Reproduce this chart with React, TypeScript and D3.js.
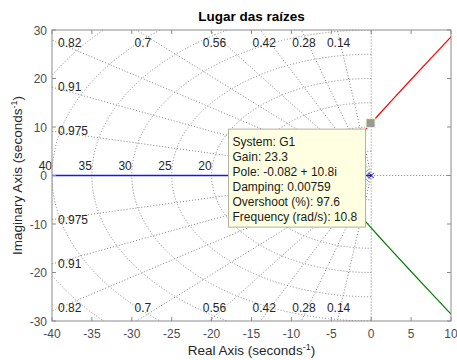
import React from "react";
import * as d3 from "d3";

const W = 457;
const H = 360;

const xTicks = [-40, -35, -30, -25, -20, -15, -10, -5, 0, 5, 10];
const yTicks = [-30, -20, -10, 0, 10, 20, 30];
const zetaValues = [0.14, 0.28, 0.42, 0.56, 0.7, 0.82, 0.91, 0.975];
const wnCircles = [5, 10, 15, 20, 25, 30, 35, 40, 45, 50];
// natural-frequency labels visible in the reference (others hidden by the data tip)
const wnLabels = [20, 25, 30, 35, 40];

// Root locus branches (real, imaginary parts)
const blueRe = [0, -45];
const blueIm = [0, 0];
const redDepRe = [-10, -9.75, -9.5, -9.25, -9.05, -9.03];
const redDepIm = [4.07, 3.43, 2.71, 1.81, 0.55, 0];
const greenDepRe = [-10, -9.75, -9.5, -9.25, -9.05, -9.03];
const greenDepIm = [-4.07, -3.43, -2.71, -1.81, -0.55, 0];
const redRe = [-4.305, -4.25, -4.15, -4, -3.5, -3, -2, -1, 0, 1, 2.5, 5, 7.5, 10, 10.5];
const redIm = [0, 0.89, 1.51, 2.14, 3.65, 4.86, 6.97, 8.92, 10.8, 12.63, 15.34, 19.79, 24.19, 28.58, 29.45];
const greenRe = [-4.305, -4.25, -4.15, -4, -3.5, -3, -2, -1, 0, 1, 2.5, 5, 7.5, 10, 10.5];
const greenIm = [0, -0.89, -1.51, -2.14, -3.65, -4.86, -6.97, -8.92, -10.8, -12.63, -15.34, -19.79, -24.19, -28.58, -29.45];
const polesRe = [0, -10, -10];
const polesIm = [0, 4.07, -4.07];

const tipRe = -0.082;
const tipIm = 10.8;
const tipLines = [
  "System: G1",
  "Gain: 23.3",
  "Pole: -0.082 + 10.8i",
  "Damping: 0.00759",
  "Overshoot (%): 97.6",
  "Frequency (rad/s): 10.8",
];

const FONT = "'Liberation Sans', Arial, Helvetica, sans-serif";
const GRID = "#808080";
const AXIS = "#8c8c8c";
const TICKTXT = "#4d4d4d";

export default function App() {
  const x = d3.scaleLinear().domain([-40, 10]).range([52, 451]);
  const y = d3.scaleLinear().domain([-30, 30]).range([321, 30]);
  const [x0, x1] = x.range();
  const [y0, y1] = [y.range()[1], y.range()[0]]; // top, bottom

  const line = d3
    .line<[number, number]>()
    .x((d) => x(d[0]))
    .y((d) => y(d[1]));
  const zip = (a: number[], b: number[]) => a.map((v, i) => [v, b[i]] as [number, number]);

  const R = 200;
  const rays: { re: number; im: number }[] = [];
  zetaValues.forEach((z) => {
    const s = Math.sqrt(1 - z * z);
    rays.push({ re: -R * z, im: R * s });
    rays.push({ re: -R * z, im: -R * s });
  });

  const zetaLabels: { text: string; x: number; y: number; anchor: string }[] = [];
  zetaValues.forEach((z) => {
    const s = Math.sqrt(1 - z * z);
    const xc = (-30 * z) / s;
    [1, -1].forEach((sg) => {
      if (xc >= -40) {
        const cy = sg > 0 ? y0 + 13 : y1 - 13;
        zetaLabels.push({ text: String(z), x: x(xc) + 9 * z, y: cy + 4, anchor: "middle" });
      } else {
        const yc = (40 * s) / z;
        let cy = y(sg * yc);
        cy = Math.max(y0 + 13, Math.min(y1 - 13, cy));
        zetaLabels.push({ text: String(z), x: x0 + 6, y: cy + 4, anchor: "start" });
      }
    });
  });

  const tx = x(tipRe);
  const ty = y(tipIm);
  const boxW = 137;
  const boxH = 98;
  const boxRight = tx - 5;
  const boxTop = ty + 6;

  return (
    <svg
      width={W}
      height={H}
      style={{ position: "absolute", left: 0, top: 0, background: "#fff" }}
      fontFamily={FONT}
    >
      <defs>
        <clipPath id="plotclip">
          <rect x={x0} y={y0} width={x1 - x0} height={y1 - y0} />
        </clipPath>
      </defs>
      <rect x={0} y={0} width={W} height={H} fill="#fff" />

      <g clipPath="url(#plotclip)" fill="none" stroke={GRID} strokeWidth={1} strokeDasharray="1 2">
        {rays.map((r, i) => (
          <line key={"ray" + i} x1={x(0)} y1={y(0)} x2={x(r.re)} y2={y(r.im)} />
        ))}
        <line x1={x(0)} y1={y(0)} x2={x(0)} y2={y(60)} />
        <line x1={x(0)} y1={y(0)} x2={x(0)} y2={y(-60)} />
        <line x1={x(0)} y1={y(0)} x2={x(-60)} y2={y(0)} />
        <line x1={x(0)} y1={y(0)} x2={x(60)} y2={y(0)} />
        {wnCircles.map((w) => {
          const rx = x(w) - x(0);
          const ry = y(0) - y(w);
          return (
            <path key={"c" + w} d={`M${x(0)},${y(w)} A${rx},${ry} 0 0 0 ${x(0)},${y(-w)}`} />
          );
        })}
      </g>

      <g fontSize={12} fill="#262626">
        {wnLabels.map((w) => (
          <text key={"wl" + w} x={x(-w)} y={y(0) - 5.5} textAnchor="end">
            {w}
          </text>
        ))}
        {zetaLabels.map((l, i) => (
          <text key={"zl" + i} x={l.x} y={l.y} textAnchor={l.anchor as any}>
            {l.text}
          </text>
        ))}
      </g>

      <g clipPath="url(#plotclip)" fill="none" strokeWidth={1.2}>
        <path d={line(zip(blueRe, blueIm)) || ""} stroke="#1414ff" strokeWidth={1.5} />
        <path d={line(zip(redDepRe, redDepIm)) || ""} stroke="#ff0000" />
        <path d={line(zip(greenDepRe, greenDepIm)) || ""} stroke="#008000" />
        <path d={line(zip(redRe, redIm)) || ""} stroke="#ff0000" />
        <path d={line(zip(greenRe, greenIm)) || ""} stroke="#008000" />
        {polesRe.map((p, i) => {
          const cx = x(p);
          const cy = y(polesIm[i]);
          const s = 2.5;
          return (
            <path
              key={"p" + i}
              d={`M${cx - s},${cy - s}L${cx + s},${cy + s}M${cx - s},${cy + s}L${cx + s},${cy - s}`}
              stroke="#0000ff"
              strokeWidth={1}
            />
          );
        })}
      </g>

      <rect x={x0} y={y0} width={x1 - x0} height={y1 - y0} fill="none" stroke={AXIS} strokeWidth={1} />
      <g stroke={AXIS} strokeWidth={1}>
        {xTicks.map((t) => (
          <g key={"xt" + t}>
            <line x1={x(t)} x2={x(t)} y1={y1} y2={y1 - 4} />
            <line x1={x(t)} x2={x(t)} y1={y0} y2={y0 + 4} />
          </g>
        ))}
        {yTicks.map((t) => (
          <g key={"yt" + t}>
            <line x1={x0} x2={x0 + 4} y1={y(t)} y2={y(t)} />
            <line x1={x1} x2={x1 - 4} y1={y(t)} y2={y(t)} />
          </g>
        ))}
      </g>
      <g fontSize={12} fill={TICKTXT}>
        {xTicks.map((t) => (
          <text key={"xl" + t} x={x(t)} y={y1 + 17} textAnchor="middle">
            {t}
          </text>
        ))}
        {yTicks.map((t) => (
          <text key={"yl" + t} x={x0 - 5} y={y(t) + 4.5} textAnchor="end">
            {t}
          </text>
        ))}
      </g>

      <rect
        x={boxRight - boxW}
        y={boxTop}
        width={boxW}
        height={boxH}
        fill="#ffffe1"
        stroke="#b0b0a0"
        strokeWidth={1}
      />
      <g fontSize={12} fill="#1a1a1a">
        {tipLines.map((l, i) => (
          <text key={"tl" + i} x={boxRight - boxW + 4} y={boxTop + 17 + i * 14.9}>
            {l}
          </text>
        ))}
      </g>
      <rect x={tx - 4.5} y={ty - 4.5} width={9} height={9} fill="#999999" stroke="#f4f4c8" strokeWidth={1} />

      <text x={(x0 + x1) / 2} y={20.5} textAnchor="middle" fontSize={13.5} fontWeight="bold" fill="#000">
        Lugar das raízes
      </text>
      <text x={(x0 + x1) / 2} y={355} textAnchor="middle" fontSize={13.5} fill="#262626">
        Real Axis (seconds
        <tspan fontSize={9} dy={-5}>-1</tspan>
        <tspan dy={5}>)</tspan>
      </text>
      <text
        transform={`translate(22,${(y0 + y1) / 2}) rotate(-90)`}
        textAnchor="middle"
        fontSize={13.5}
        fill="#262626"
      >
        Imaginary Axis (seconds
        <tspan fontSize={9} dy={-5}>-1</tspan>
        <tspan dy={5}>)</tspan>
      </text>
    </svg>
  );
}
